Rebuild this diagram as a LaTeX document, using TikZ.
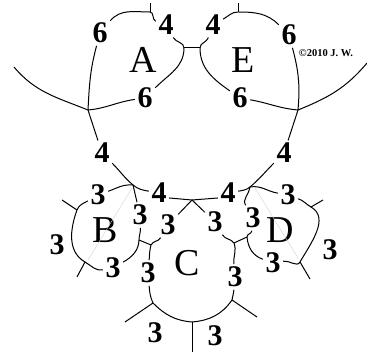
\documentclass[tikz,border=0pt]{standalone}
\usepackage{fontspec}
\setmainfont{Liberation Serif}
\begin{document}
\begin{tikzpicture}[x=1pt,y=1pt,
  edge/.style={line width=1pt},
  lbl/.style={font=\fontsize{30}{30}\selectfont\bfseries, inner sep=2.5pt},
  face/.style={font=\fontsize{38}{38}\selectfont, inner sep=0pt},
  faint/.style={gray!35, line width=0.4pt}]
\useasboundingbox (0,0) rectangle (367,-352);

% labels
\node[lbl] (a6t) at (100,-33) {6};
\node[lbl] (a4)  at (166,-25) {4};
\node[lbl] (a6b) at (145,-98) {6};
\node[lbl] (e4)  at (213,-25) {4};
\node[lbl] (e6t) at (289,-35) {6};
\node[lbl] (e6b) at (240,-98) {6};
\node[lbl] (m4l) at (102,-153) {4};
\node[lbl] (m4r) at (284,-153) {4};
\node[lbl] (b4l) at (159,-193) {4};
\node[lbl] (b4r) at (228,-193) {4};
\node[lbl] (b3t) at (98,-195) {3};
\node[lbl] (b3r) at (140,-215) {3};
\node[lbl] (b3b) at (113,-268) {3};
\node[lbl] (b3l) at (57,-245) {3};
\node[lbl] (c3tl) at (168,-225) {3};
\node[lbl] (c3tr) at (215,-222) {3};
\node[lbl] (c3l) at (148,-273) {3};
\node[lbl] (c3r) at (235,-277) {3};
\node[lbl] (c3bl) at (155,-333) {3};
\node[lbl] (c3br) at (215,-336) {3};
\node[lbl] (d3t) at (288,-195) {3};
\node[lbl] (d3l) at (253,-218) {3};
\node[lbl] (d3b) at (273,-263) {3};
\node[lbl] (d3r) at (330,-250) {3};
\node[face] (A) at (143,-60) {A};
\node[face] (E) at (243,-60) {E};
\node[face] (B) at (105,-230) {B};
\node[face] (C) at (187,-263) {C};
\node[face] (D) at (280,-230) {D};
\node[font=\fontsize{10.5}{10.5}\selectfont\bfseries, inner sep=0pt] (copy) at (326,-53) {©2010 J. W.};

% coordinates
\coordinate (J1) at (88,-110);
\coordinate (J2) at (298,-110);
\coordinate (T1) at (150,-12);
\coordinate (T1e) at (150,-3);
\coordinate (T2) at (238,-12);
\coordinate (T2e) at (238,-3);
\coordinate (HA) at (184,-48);
\coordinate (HE) at (200,-48);
\coordinate (OL) at (14,-67);
\coordinate (OR) at (367,-63);
\coordinate (VB) at (133,-185);
\coordinate (VD) at (250,-187);
\coordinate (VC) at (192,-200);
\coordinate (BT1) at (77,-210);
\coordinate (BT1e) at (62,-200);
\coordinate (BT2) at (85,-262);
\coordinate (BT2e) at (77,-277);
\coordinate (BB) at (139,-240);
\coordinate (CB) at (151,-245);
\coordinate (CT1) at (153,-303);
\coordinate (CT1e) at (125,-322);
\coordinate (CT2) at (232,-300);
\coordinate (CT2e) at (257,-317);
\coordinate (Cbot) at (192,-322);
\coordinate (Cbote) at (192,-352);
\coordinate (CD1) at (234,-243);
\coordinate (DB) at (247,-237);
\coordinate (DT1) at (311,-207);
\coordinate (DT1e) at (323,-200);
\coordinate (DT2) at (300,-262);
\coordinate (DT2e) at (310,-279);
\coordinate (gb1) at (88,-260);
\coordinate (gb2) at (132,-188);
\coordinate (gd1) at (255,-188);
\coordinate (gd2) at (298,-258);

% face A
\draw[edge] (J1) to[out=87,in=-105] (a6t);
\draw[edge] (a6t) to[out=50,in=180] (T1);
\draw[edge] (T1) to[out=0,in=160] (a4);
\draw[edge] (T1) -- (T1e);
\draw[edge] (a4) to[out=-60,in=90] (HA);
\draw[edge] (HA) to[out=-90,in=45] (a6b);
\draw[edge] (a6b) to[out=188,in=5] (J1);
\draw[edge] (J1) to[out=158,in=-50] (OL);
\draw[edge] (J1) -- (m4l);
\draw[edge] (HA) -- (HE);

% face E
\draw[edge] (e4) to[out=30,in=180] (T2);
\draw[edge] (T2) -- (T2e);
\draw[edge] (T2) to[out=0,in=135] (e6t);
\draw[edge] (e6t) to[out=-75,in=85] (J2);
\draw[edge] (e4) to[out=-110,in=90] (HE);
\draw[edge] (HE) to[out=-90,in=145] (e6b);
\draw[edge] (e6b) to[out=-10,in=175] (J2);
\draw[edge] (J2) to[out=22,in=-130] (OR);
\draw[edge] (J2) -- (m4r);

% middle
\draw[edge] (m4l) to[out=-45,in=140] (VB);
\draw[edge] (VB) to[out=-40,in=170] (b4l);
\draw[edge] (m4r) to[out=-135,in=40] (VD);
\draw[edge] (VD) to[out=-140,in=10] (b4r);
\draw[edge] ([yshift=-5pt]b4l.east) -- (VC) -- ([yshift=-5pt]b4r.west);
\draw[edge] (VC) -- (c3tl);
\draw[edge] (VC) -- (c3tr);

% B
\draw[edge] (b3t) to[out=20,in=175] (VB);
\draw[edge] (VB) -- (b3r);
\draw[edge] (b3r) to[out=-88,in=88] (BB);
\draw[edge] (BB) to[out=-92,in=30] (b3b);
\draw[edge] (b3b) to[out=190,in=-30] (BT2);
\draw[edge] (BT2) to[out=150,in=-110] (BT1);
\draw[edge] (BT1) to[out=70,in=210] (b3t);
\draw[edge] (BT1) -- (BT1e);
\draw[edge] (BT2) -- (BT2e);
\draw[edge] (BB) -- (CB);
\draw[faint] (gb1) -- (gb2);

% C
\draw[edge] (c3tl) to[out=-120,in=65] (CB);
\draw[edge] (CB) to[out=-105,in=85] (c3l);
\draw[edge] (c3l) to[out=-85,in=115] (CT1);
\draw[edge] (CT1) to[out=-45,in=175] (Cbot);
\draw[edge] (c3tr) to[out=-60,in=125] (CD1);
\draw[edge] (CD1) to[out=-70,in=95] (c3r);
\draw[edge] (c3r) to[out=-95,in=80] (CT2);
\draw[edge] (CT2) to[out=-125,in=5] (Cbot);
\draw[edge] (CT1) -- (CT1e);
\draw[edge] (CT2) -- (CT2e);
\draw[edge] (Cbot) -- (Cbote);
\draw[edge] (CD1) -- (DB);

% D
\draw[edge] (VD) to[out=10,in=170] (d3t);
\draw[edge] (VD) to[out=-95,in=120] (d3l);
\draw[edge] (d3l) to[out=-95,in=95] (DB);
\draw[edge] (DB) to[out=-85,in=160] (d3b);
\draw[edge] (d3t) to[out=-20,in=150] (DT1);
\draw[edge] (DT1) to[out=-30,in=60] (DT2);
\draw[edge] (DT2) to[out=-120,in=10] (d3b);
\draw[edge] (DT1) -- (DT1e);
\draw[edge] (DT2) -- (DT2e);
\draw[faint] (gd1) -- (gd2);
\end{tikzpicture}
\end{document}
